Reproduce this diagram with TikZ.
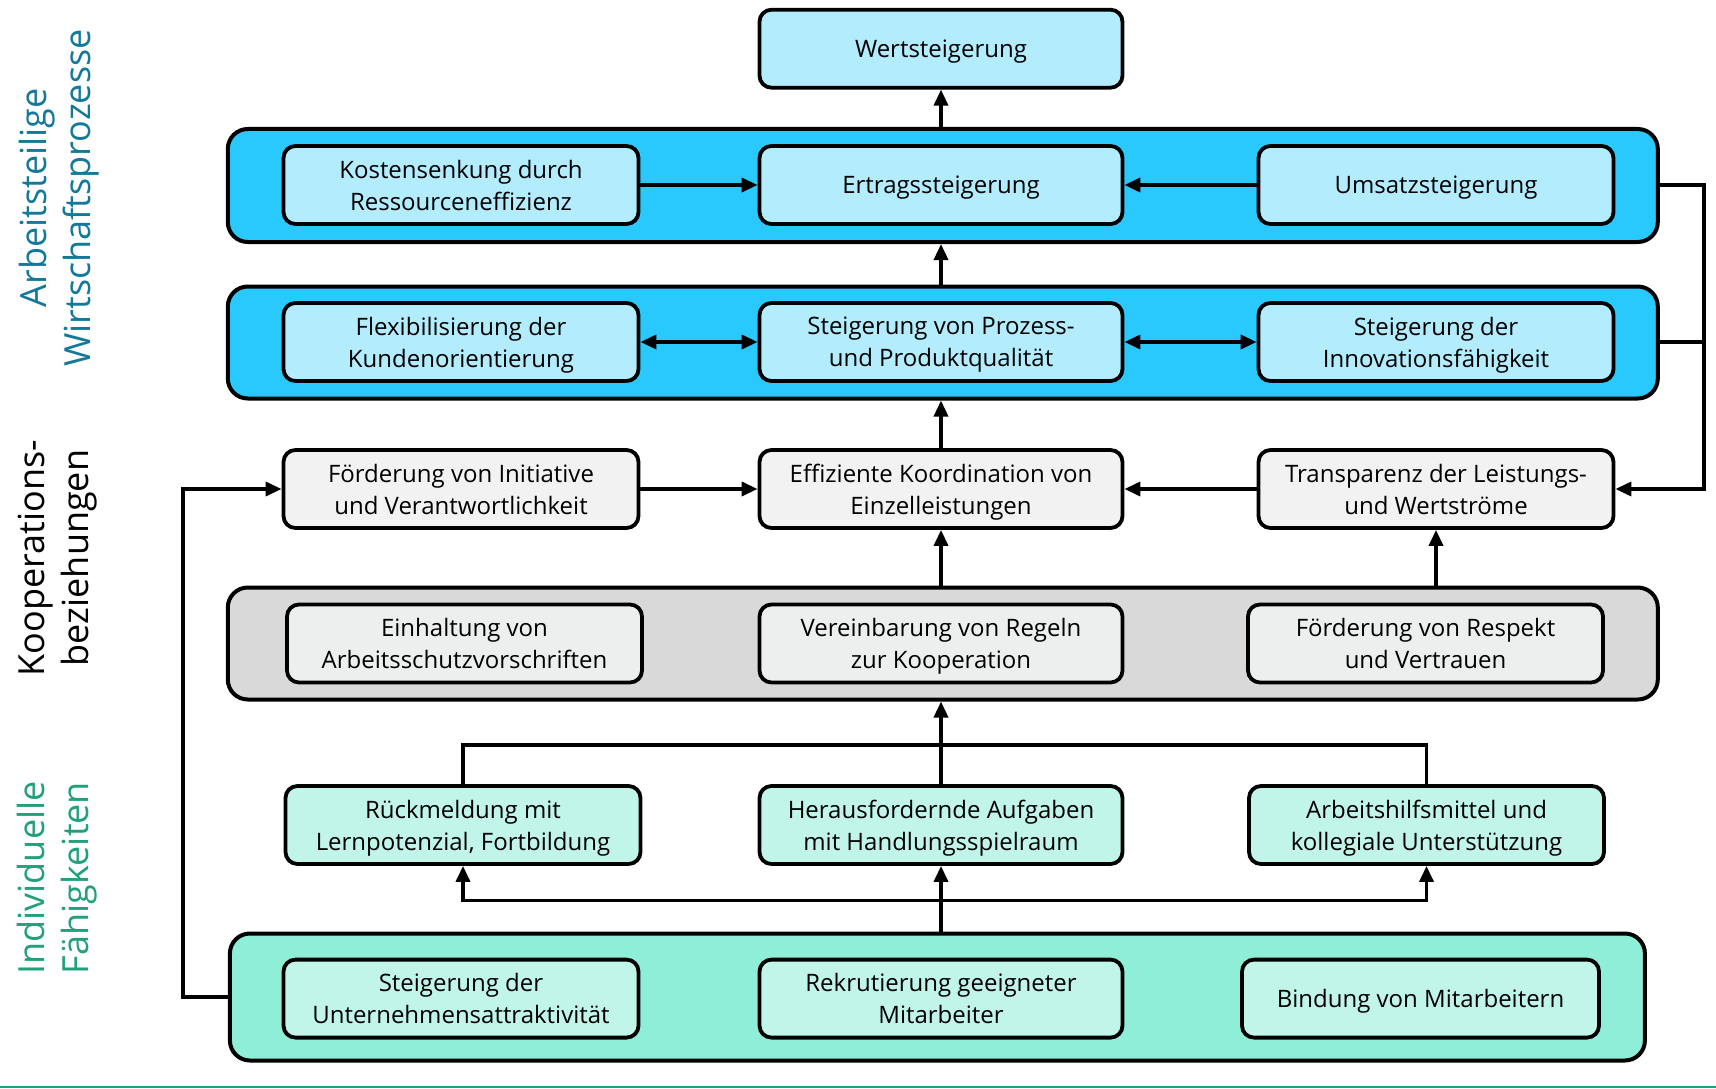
\documentclass[tikz,border=0pt]{standalone}
\usepackage{fontspec}
\setmainfont{Open Sans}
\usetikzlibrary{arrows.meta}
\definecolor{cyanlight}{HTML}{B3ECFD}
\definecolor{cyanband}{HTML}{29C8FD}
\definecolor{greylight}{HTML}{F2F2F2}
\definecolor{greyband}{HTML}{D9D9D9}
\definecolor{greyinner}{HTML}{EDEFEE}
\definecolor{mintlight}{HTML}{C2F5E9}
\definecolor{mintband}{HTML}{8EEED8}
\definecolor{labblue}{HTML}{13799A}
\definecolor{labgreen}{HTML}{21A07D}
\begin{document}
\begin{tikzpicture}[x=1pt,y=-1pt,
  box/.style={draw, line width=3.8pt, rounded corners=12pt, minimum height=78pt, align=center,
    font=\fontsize{24}{32}\selectfont, inner sep=0pt, text depth=0pt},
  band/.style={draw, line width=4pt, rounded corners=20pt, inner sep=0pt},
  tipA/.tip={Triangle[length=16pt,width=14pt]},
  arr/.style={line width=3.5pt, -tipA},
  darr/.style={line width=3.5pt, tipA-tipA},
  ln/.style={line width=3.5pt},
  lab/.style={rotate=90, align=center, font=\fontsize{36}{44}\selectfont, inner sep=0pt}]
\useasboundingbox (0,0) rectangle (1716,1089);

% labels
\node[lab, text=labblue] (l1) at (59,198) {Arbeitsteilige\\Wirtschaftsprozesse};
\node[lab] (l2) at (58,558) {Kooperations-\\beziehungen};
\node[lab, text=labgreen] (l3) at (57,878) {Individuelle\\Fähigkeiten};

% top
\node[box, fill=cyanlight, minimum width=363pt] (wert) at (941,48.7) {Wertsteigerung};

% band 1
\node[band, fill=cyanband, minimum width=1430pt, minimum height=113pt] (band1) at (942.8,185.5) {};
\node[box, fill=cyanlight, minimum width=355pt] (kosten) at (461,185) {Kostensenkung durch\\Ressourceneffizienz};
\node[box, fill=cyanlight, minimum width=363pt] (ertrag) at (941,185) {Ertragssteigerung};
\node[box, fill=cyanlight, minimum width=355pt] (umsatz) at (1436,185) {Umsatzsteigerung};

% band 2
\node[band, fill=cyanband, minimum width=1430pt, minimum height=112pt] (band2) at (942.8,342.5) {};
\node[box, fill=cyanlight, minimum width=355pt] (flex) at (461,342) {Flexibilisierung der\\Kundenorientierung};
\node[box, fill=cyanlight, minimum width=363pt] (prozess) at (941,342) {Steigerung von Prozess-\\und Produktqualität};
\node[box, fill=cyanlight, minimum width=355pt] (innov) at (1436,342) {Steigerung der\\Innovationsfähigkeit};

% row 3
\node[box, fill=greylight, minimum width=355pt] (init) at (461,489) {Förderung von Initiative\\und Verantwortlichkeit};
\node[box, fill=greylight, minimum width=363pt] (koord) at (941,489) {Effiziente Koordination von\\Einzelleistungen};
\node[box, fill=greylight, minimum width=355pt] (transp) at (1436,489) {Transparenz der Leistungs-\\und Wertströme};

% band 4
\node[band, fill=greyband, minimum width=1430pt, minimum height=112pt] (band4) at (942.8,643.5) {};
\node[box, fill=greyinner, minimum width=355pt] (einh) at (464.5,643.5) {Einhaltung von\\Arbeitsschutzvorschriften};
\node[box, fill=greyinner, minimum width=363pt] (verein) at (941,643.5) {Vereinbarung von Regeln\\zur Kooperation};
\node[box, fill=greyinner, minimum width=355pt] (respekt) at (1425.5,643.5) {Förderung von Respekt\\und Vertrauen};

% row 5
\node[box, fill=mintlight, minimum width=355pt] (rueck) at (463,825) {Rückmeldung mit\\Lernpotenzial, Fortbildung};
\node[box, fill=mintlight, minimum width=363pt] (heraus) at (941,825) {Herausfordernde Aufgaben\\mit Handlungsspielraum};
\node[box, fill=mintlight, minimum width=355pt] (hilfs) at (1426.5,825) {Arbeitshilfsmittel und\\kollegiale Unterstützung};

% band 6
\node[band, fill=mintband, minimum width=1415pt, minimum height=127pt] (band6) at (937.4,997) {};
\node[box, fill=mintlight, minimum width=355pt] (attr) at (461,998.6) {Steigerung der\\Unternehmensattraktivität};
\node[box, fill=mintlight, minimum width=363pt] (rekr) at (941,998.6) {Rekrutierung geeigneter\\Mitarbeiter};
\node[box, fill=mintlight, minimum width=357pt] (bind) at (1420.5,998.6) {Bindung von Mitarbeitern};

% junction coordinates
\coordinate (rj) at (1704,0);
\coordinate (lj) at (182.8,0);
\coordinate (j5) at (0,745);
\coordinate (j6) at (0,900.7);

% connectors
\draw[arr] (band1.north -| wert) -- (wert.south);
\draw[arr] (kosten.east) -- (ertrag.west);
\draw[arr] (umsatz.west) -- (ertrag.east);
\draw[arr] (band2.north -| ertrag) -- (band1.south -| ertrag);
\draw[darr] (flex.east) -- (prozess.west);
\draw[darr] (prozess.east) -- (innov.west);
\draw[arr] (koord.north) -- (band2.south -| koord);
\draw[arr] (init.east) -- (koord.west);
\draw[arr] (transp.west) -- (koord.east);
\draw[arr] (band1.east |- umsatz) -- (rj |- umsatz) -- (rj |- transp) -- (transp.east);
\draw[ln] (band2.east |- innov) -- (rj |- innov);
\draw[arr] (band4.north -| koord) -- (koord.south);
\draw[arr] (band4.north -| transp) -- (transp.south);
\draw[arr] (heraus.north) -- (band4.south -| heraus);
\draw[ln] (rueck.north) -- (rueck.north |- j5) -- (heraus.north |- j5);
\draw[ln] (hilfs.north) -- (hilfs.north |- j5) -- (heraus.north |- j5);
\draw[arr] (band6.north -| heraus) -- (heraus.south);
\draw[arr] (heraus.south |- j6) -| (rueck.south);
\draw[arr] (heraus.south |- j6) -| (hilfs.south);
\draw[arr] (band6.west) -- (lj |- band6) -- (lj |- init) -- (init.west);

% bottom rule
\draw[labgreen, line width=2pt] (0,1087) -- (1716,1087);
\end{tikzpicture}
\end{document}
